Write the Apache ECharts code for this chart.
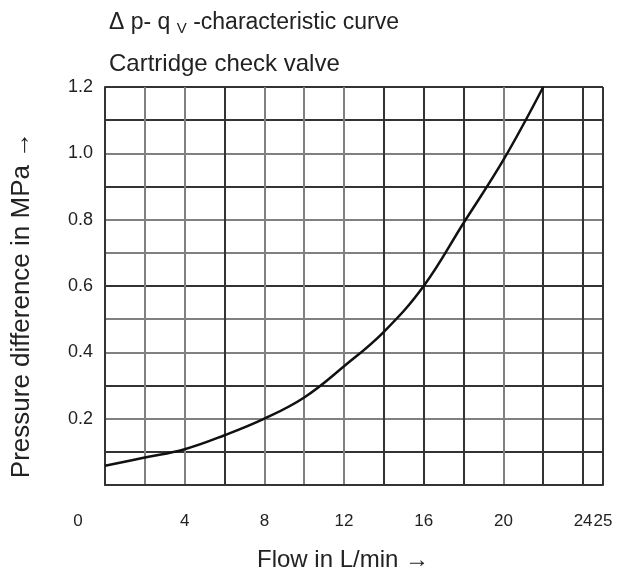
<!DOCTYPE html>
<html><head><meta charset="utf-8">
<script src="https://cdn.jsdelivr.net/npm/echarts@6/dist/echarts.min.js"></script>
<style>html,body{margin:0;padding:0;background:#fff}#c{width:622px;height:577px}</style>
</head><body><div id="c"></div>
<script>
const flow = [0, 2, 4, 6, 8, 10, 12, 14, 16, 18, 20, 22];
const pressure = [0.058, 0.083, 0.108, 0.150, 0.200, 0.264, 0.358, 0.462, 0.600, 0.790, 0.980, 1.200];
const xTickLabels = [0, 4, 8, 12, 16, 20, 24, 25];
const yTickLabels = [0.2, 0.4, 0.6, 0.8, 1.0, 1.2];

const FONT = 'Liberation Sans, Arial, sans-serif';
const chart = echarts.init(document.getElementById('c'));
chart.setOption({
  animation: false,
  backgroundColor: '#fff',
  title: [{
    text: '{a|Δ p- q }{s|V}{a| -characteristic curve}',
    left: 104, top: 4,
    textStyle: { rich: {
      a: { fontFamily: FONT, fontSize: 23, fontWeight: 'normal', color: '#222' },
      s: { fontFamily: FONT, fontSize: 15, fontWeight: 'normal', color: '#222', padding: [12, 0, 0, 0] }
    } }
  }, {
    text: 'Cartridge check valve',
    left: 104, top: 47,
    textStyle: { fontFamily: FONT, fontSize: 24, fontWeight: 'normal', color: '#222' }
  }],
  grid: { left: 105, right: 19, top: 87, bottom: 90 },
  xAxis: {
    type: 'value', min: 0, max: 25, interval: 2,
    name: 'Flow in L/min →', nameLocation: 'middle', nameGap: 63,
    nameTextStyle: { fontFamily: FONT, fontSize: 24, color: '#222', padding: [0, 22, 0, 0] },
    axisLine: { show: true, lineStyle: { color: '#333', width: 2 } },
    axisTick: { show: false },
    axisLabel: {
      margin: 28, fontFamily: FONT, fontSize: 17, color: '#222',
      showMaxLabel: true, showMinLabel: true, hideOverlap: false,
      formatter: v => {
        if (!xTickLabels.includes(v)) return '';
        if (v === 0) return '{z|0}';
        return String(v);
      },
      rich: { z: { fontFamily: FONT, fontSize: 17, color: '#222', padding: [0, 54, 0, 0] } }
    },
    splitLine: { show: true, lineStyle: { width: 2,
      color: ['#333', '#808080', '#808080', '#333', '#808080', '#808080', '#808080', '#333', '#333', '#333', '#808080', '#333', '#333', '#333'] } }
  },
  yAxis: {
    type: 'value', min: 0, max: 1.2, interval: 0.1,
    name: 'Pressure difference in MPa →', nameLocation: 'middle', nameGap: 70,
    nameTextStyle: { fontFamily: FONT, fontSize: 26, color: '#222', padding: [0, 38, 0, 0] },
    axisLine: { show: true, lineStyle: { color: '#333', width: 2 } },
    axisTick: { show: false },
    axisLabel: {
      margin: 12, fontFamily: FONT, fontSize: 18, color: '#222',
      formatter: v => {
        const r = Math.round(v * 10) / 10;
        return yTickLabels.some(t => Math.abs(t - r) < 1e-6) ? r.toFixed(1) : '';
      }
    },
    splitLine: { show: true, lineStyle: { width: 2,
      color: ['#333', '#333', '#808080', '#333', '#808080', '#808080', '#333', '#808080', '#808080', '#333', '#808080', '#333', '#333'] } }
  },
  series: [{
    type: 'line', smooth: 0.4, symbol: 'none',
    data: flow.map((x, i) => [x, pressure[i]]),
    lineStyle: { color: '#111', width: 2.5 }
  }]
});
</script></body></html>
